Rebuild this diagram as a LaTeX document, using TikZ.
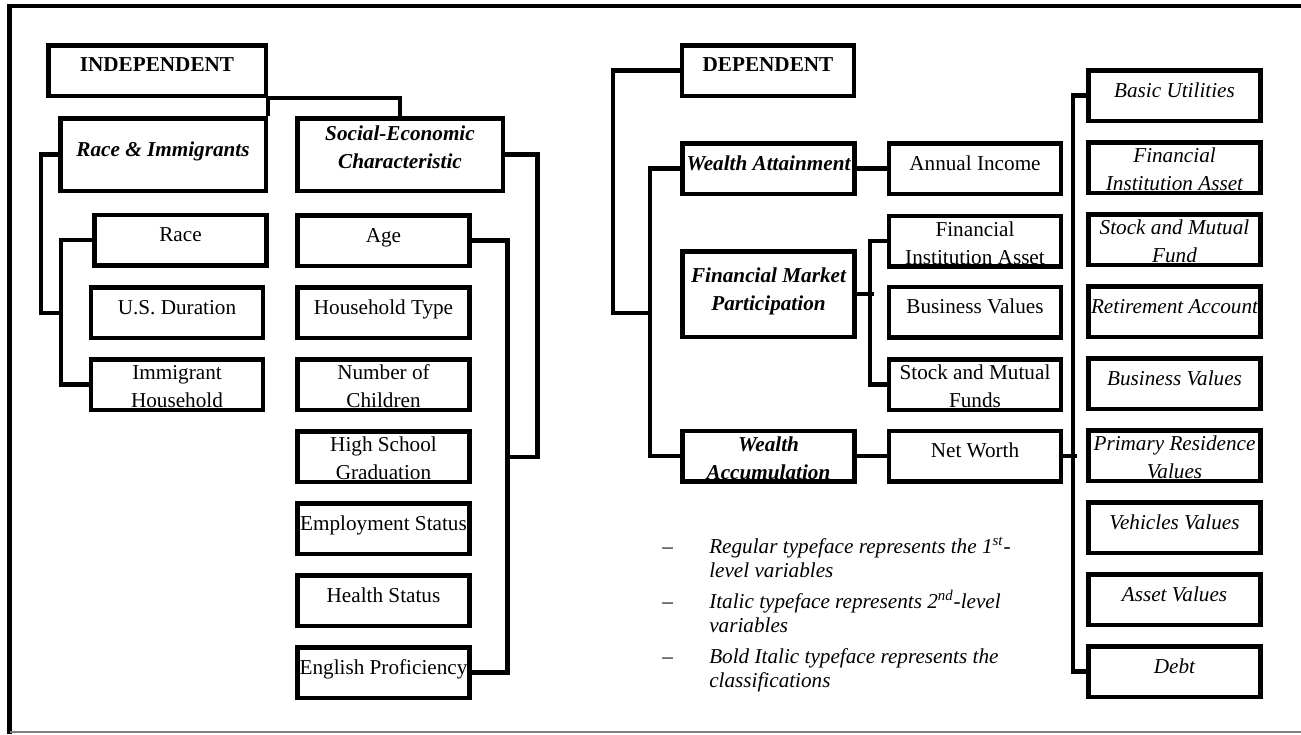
\documentclass[tikz,border=0pt]{standalone}
\usepackage{fontspec}
\setmainfont{Liberation Serif}
\newcommand{\boxfont}{\fontsize{10.6}{14}\selectfont}
\begin{document}
\begin{tikzpicture}[x=0.5pt,y=-0.5pt,line width=2.25pt,
    box/.style={draw,inner sep=0pt,minimum width=86pt,text width=86pt,align=flush center,
        minimum height=25.25pt,text height=13.375pt,text depth=11.875pt,font=\boxfont},
    twoline/.style={text height=10.125pt,text depth=15.125pt},
    itbox/.style={box,font=\boxfont\itshape},
    classbox/.style={box,font=\boxfont\bfseries\itshape},
    note/.style={anchor=base west,inner sep=0pt,text width=200pt,align=flush left,
        font=\itshape\fontsize{10.6}{12}\selectfont}]
\useasboundingbox (0,0) rectangle (1301,734);
% frame
\draw[line width=2.25pt] (9.5,734)--(9.5,6)--(1301,6);
\draw[line width=0.6pt,gray] (9.5,732)--(1301,732);

% independent side
\node[box,font=\boxfont\bfseries,minimum width=108.75pt,text width=108.75pt,text height=12.875pt,text depth=12.375pt] (indep) at (157,70.5) {INDEPENDENT};
\node[classbox,minimum width=102.75pt,text width=102.75pt,minimum height=36.25pt,text height=18.875pt,text depth=17.375pt] (raceimm) at (163,154.5) {Race \& Immigrants};
\node[classbox,minimum width=102.75pt,text width=102.75pt,minimum height=36.25pt,text height=10.875pt,text depth=25.375pt] (socio) at (400,154.5) {Social-Economic\\Characteristic};

\node[box] (race) at (180.5,240) {Race};
\node[box] (usdur) at (177,312.5) {U.S. Duration};
\node[box,twoline] (immhh) at (177,384.5) {Immigrant\\Household};

\node[box] (age) at (383.5,240.5) {Age};
\node[box] (hhtype) at (383.5,312.5) {Household Type};
\node[box,twoline] (nchild) at (383.5,384.5) {Number of\\Children};
\node[box,twoline] (hsgrad) at (383.5,456.5) {High School\\Graduation};
\node[box] (employ) at (383.5,528.5) {Employment Status};
\node[box] (health) at (383.5,600.5) {Health Status};
\node[box] (english) at (383.5,672.5) {English Proficiency};

\coordinate (racejoin) at (63,313);
\coordinate (socjoin) at (505,457);
\draw (indep.south east)--(raceimm.north east);
\draw (indep.south east)-|(socio.north);
\draw (raceimm.west)--++(-17,0)|-(racejoin);
\draw (race.west)--++(-31.5,0)|-(immhh.west);
\draw (socio.east)--++(32.5,0)|-(socjoin);
\draw (age.east)--++(35.5,0)|-(english.east);

% dependent side
\node[box,font=\boxfont\bfseries,text height=12.875pt,text depth=12.375pt] (dep) at (768,70.5) {DEPENDENT};
\node[classbox] (wattain) at (768.5,168.5) {Wealth Attainment};
\node[classbox,minimum height=42.75pt,text height=15.375pt,text depth=27.375pt] (fmp) at (768.5,294) {Financial Market\\Participation};
\node[classbox,twoline] (waccum) at (768.5,456) {Wealth\\Accumulation};

\node[box] (income) at (975,168.5) {Annual Income};
\node[box,twoline] (finone) at (975,241) {Financial\\Institution Asset};
\node[box] (busone) at (975,312) {Business Values};
\node[box,twoline] (stockone) at (975,384.5) {Stock and Mutual\\Funds};
\node[box] (networth) at (975,456) {Net Worth};

\node[itbox] (basic) at (1174.5,95.5) {Basic Utilities};
\node[itbox,twoline] (fintwo) at (1174.5,167.5) {Financial\\Institution Asset};
\node[itbox,twoline] (stocktwo) at (1174.5,239.5) {Stock and Mutual\\Fund};
\node[itbox] (retire) at (1174.5,311.5) {Retirement Account};
\node[itbox] (bustwo) at (1174.5,383.5) {Business Values};
\node[itbox,twoline] (primres) at (1174.5,455.5) {Primary Residence\\Values};
\node[itbox] (vehicle) at (1174.5,527.5) {Vehicles Values};
\node[itbox] (asset) at (1174.5,599.5) {Asset Values};
\node[itbox] (debt) at (1174.5,671.5) {Debt};

\coordinate (depjoin) at (652,313);
\draw (dep.west)--++(-67,0)|-(depjoin);
\draw (wattain.west)--++(-30.5,0)|-(waccum.west);
\draw (wattain)--(income);
\draw (fmp.east)--++(17.5,0);
\draw (finone.west)--++(-17,0)|-(stockone.west);
\draw (waccum)--(networth);
\draw (networth.east)--++(14,0);
\draw (basic.west)--++(-13.5,0)|-(debt.west);

% legend
\node[note] (noteone) at (660,553) {\makebox[23.5pt][l]{\upshape --}Regular typeface represents the 1\textsuperscript{st}-\\\hspace*{23.5pt}level variables};
\node[note] (notetwo) at (660,608) {\makebox[23.5pt][l]{\upshape --}Italic typeface represents 2\textsuperscript{nd}-level\\\hspace*{23.5pt}variables};
\node[note] (notethree) at (660,663) {\makebox[23.5pt][l]{\upshape --}Bold Italic typeface represents the\\\hspace*{23.5pt}classifications};
\end{tikzpicture}
\end{document}
